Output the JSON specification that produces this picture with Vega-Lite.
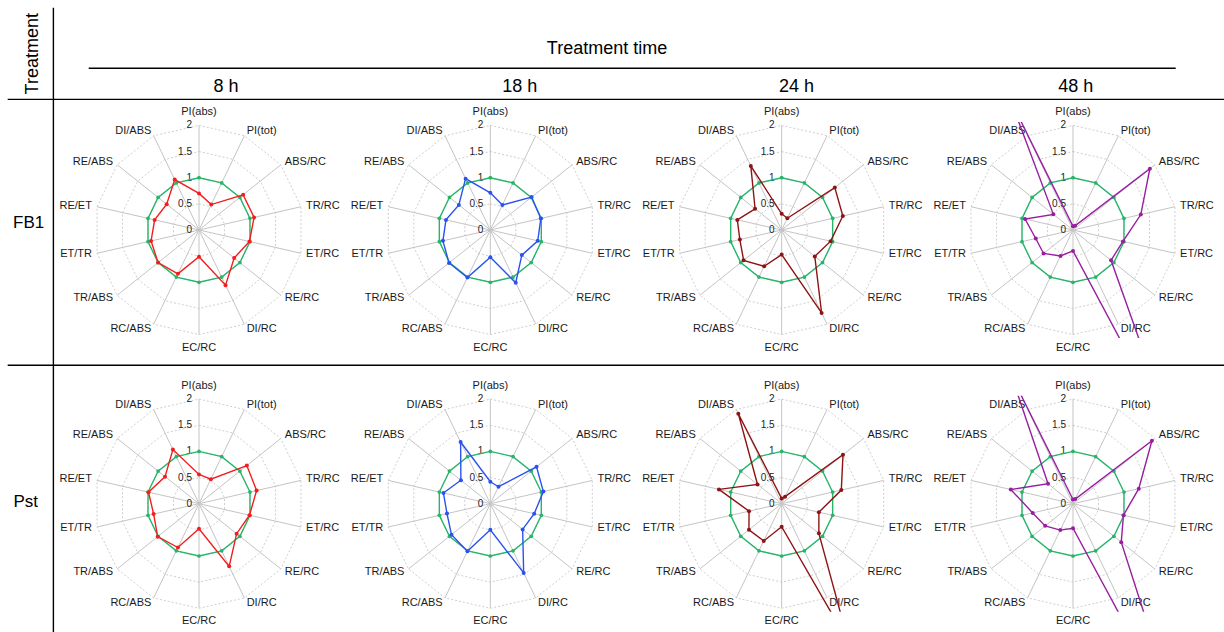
{
  "$schema": "https://vega.github.io/schema/vega-lite/v6.json",
  "padding": 0,
  "background": "white",
  "config": {"view": {"stroke": null}, "font": "Liberation Sans", "text": {"font": "Liberation Sans"}},
  "datasets": {
    "params": [
      {"p": "PI(abs)", "k": 0, "lv": [0, 0.5, 1, 1.5, 2]},
      {"p": "PI(tot)", "k": 1, "lv": [0, 0.5, 1, 1.5, 2]},
      {"p": "ABS/RC", "k": 2, "lv": [0, 0.5, 1, 1.5, 2]},
      {"p": "TR/RC", "k": 3, "lv": [0, 0.5, 1, 1.5, 2]},
      {"p": "ET/RC", "k": 4, "lv": [0, 0.5, 1, 1.5, 2]},
      {"p": "RE/RC", "k": 5, "lv": [0, 0.5, 1, 1.5, 2]},
      {"p": "DI/RC", "k": 6, "lv": [0, 0.5, 1, 1.5, 2]},
      {"p": "EC/RC", "k": 7, "lv": [0, 0.5, 1, 1.5, 2]},
      {"p": "RC/ABS", "k": 8, "lv": [0, 0.5, 1, 1.5, 2]},
      {"p": "TR/ABS", "k": 9, "lv": [0, 0.5, 1, 1.5, 2]},
      {"p": "ET/TR", "k": 10, "lv": [0, 0.5, 1, 1.5, 2]},
      {"p": "RE/ET", "k": 11, "lv": [0, 0.5, 1, 1.5, 2]},
      {"p": "RE/ABS", "k": 12, "lv": [0, 0.5, 1, 1.5, 2]},
      {"p": "DI/ABS", "k": 13, "lv": [0, 0.5, 1, 1.5, 2]}
    ],
    "radar": [
      {"t": "FB1", "h": "8 h", "p": "PI(abs)", "control": 1, "treated": 0.70},
      {"t": "FB1", "h": "8 h", "p": "PI(tot)", "control": 1, "treated": 0.54},
      {"t": "FB1", "h": "8 h", "p": "ABS/RC", "control": 1, "treated": 1.08},
      {"t": "FB1", "h": "8 h", "p": "TR/RC", "control": 1, "treated": 1.08},
      {"t": "FB1", "h": "8 h", "p": "ET/RC", "control": 1, "treated": 0.99},
      {"t": "FB1", "h": "8 h", "p": "RE/RC", "control": 1, "treated": 0.86},
      {"t": "FB1", "h": "8 h", "p": "DI/RC", "control": 1, "treated": 1.17},
      {"t": "FB1", "h": "8 h", "p": "EC/RC", "control": 1, "treated": 0.51},
      {"t": "FB1", "h": "8 h", "p": "RC/ABS", "control": 1, "treated": 0.93},
      {"t": "FB1", "h": "8 h", "p": "TR/ABS", "control": 1, "treated": 1.00},
      {"t": "FB1", "h": "8 h", "p": "ET/TR", "control": 1, "treated": 0.94},
      {"t": "FB1", "h": "8 h", "p": "RE/ET", "control": 1, "treated": 0.87},
      {"t": "FB1", "h": "8 h", "p": "RE/ABS", "control": 1, "treated": 0.79},
      {"t": "FB1", "h": "8 h", "p": "DI/ABS", "control": 1, "treated": 1.07},
      {"t": "FB1", "h": "18 h", "p": "PI(abs)", "control": 1, "treated": 0.71},
      {"t": "FB1", "h": "18 h", "p": "PI(tot)", "control": 1, "treated": 0.53},
      {"t": "FB1", "h": "18 h", "p": "ABS/RC", "control": 1, "treated": 1.01},
      {"t": "FB1", "h": "18 h", "p": "TR/RC", "control": 1, "treated": 0.99},
      {"t": "FB1", "h": "18 h", "p": "ET/RC", "control": 1, "treated": 0.93},
      {"t": "FB1", "h": "18 h", "p": "RE/RC", "control": 1, "treated": 0.77},
      {"t": "FB1", "h": "18 h", "p": "DI/RC", "control": 1, "treated": 1.12},
      {"t": "FB1", "h": "18 h", "p": "EC/RC", "control": 1, "treated": 0.52},
      {"t": "FB1", "h": "18 h", "p": "RC/ABS", "control": 1, "treated": 1.01},
      {"t": "FB1", "h": "18 h", "p": "TR/ABS", "control": 1, "treated": 1.01},
      {"t": "FB1", "h": "18 h", "p": "ET/TR", "control": 1, "treated": 0.93},
      {"t": "FB1", "h": "18 h", "p": "RE/ET", "control": 1, "treated": 0.87},
      {"t": "FB1", "h": "18 h", "p": "RE/ABS", "control": 1, "treated": 0.77},
      {"t": "FB1", "h": "18 h", "p": "DI/ABS", "control": 1, "treated": 1.09},
      {"t": "FB1", "h": "24 h", "p": "PI(abs)", "control": 1, "treated": 0.31},
      {"t": "FB1", "h": "24 h", "p": "PI(tot)", "control": 1, "treated": 0.25},
      {"t": "FB1", "h": "24 h", "p": "ABS/RC", "control": 1, "treated": 1.30},
      {"t": "FB1", "h": "24 h", "p": "TR/RC", "control": 1, "treated": 1.20},
      {"t": "FB1", "h": "24 h", "p": "ET/RC", "control": 1, "treated": 0.96},
      {"t": "FB1", "h": "24 h", "p": "RE/RC", "control": 1, "treated": 0.81},
      {"t": "FB1", "h": "24 h", "p": "DI/RC", "control": 1, "treated": 1.76},
      {"t": "FB1", "h": "24 h", "p": "EC/RC", "control": 1, "treated": 0.47},
      {"t": "FB1", "h": "24 h", "p": "RC/ABS", "control": 1, "treated": 0.77},
      {"t": "FB1", "h": "24 h", "p": "TR/ABS", "control": 1, "treated": 0.93},
      {"t": "FB1", "h": "24 h", "p": "ET/TR", "control": 1, "treated": 0.82},
      {"t": "FB1", "h": "24 h", "p": "RE/ET", "control": 1, "treated": 0.87},
      {"t": "FB1", "h": "24 h", "p": "RE/ABS", "control": 1, "treated": 0.65},
      {"t": "FB1", "h": "24 h", "p": "DI/ABS", "control": 1, "treated": 1.36},
      {"t": "FB1", "h": "48 h", "p": "PI(abs)", "control": 1, "treated": 0.07},
      {"t": "FB1", "h": "48 h", "p": "PI(tot)", "control": 1, "treated": 0.09},
      {"t": "FB1", "h": "48 h", "p": "ABS/RC", "control": 1, "treated": 1.88},
      {"t": "FB1", "h": "48 h", "p": "TR/RC", "control": 1, "treated": 1.33},
      {"t": "FB1", "h": "48 h", "p": "ET/RC", "control": 1, "treated": 0.98},
      {"t": "FB1", "h": "48 h", "p": "RE/RC", "control": 1, "treated": 0.93},
      {"t": "FB1", "h": "48 h", "p": "DI/RC", "control": 1, "treated": 4.60},
      {"t": "FB1", "h": "48 h", "p": "EC/RC", "control": 1, "treated": 0.40},
      {"t": "FB1", "h": "48 h", "p": "RC/ABS", "control": 1, "treated": 0.55},
      {"t": "FB1", "h": "48 h", "p": "TR/ABS", "control": 1, "treated": 0.72},
      {"t": "FB1", "h": "48 h", "p": "ET/TR", "control": 1, "treated": 0.73},
      {"t": "FB1", "h": "48 h", "p": "RE/ET", "control": 1, "treated": 0.94},
      {"t": "FB1", "h": "48 h", "p": "RE/ABS", "control": 1, "treated": 0.48},
      {"t": "FB1", "h": "48 h", "p": "DI/ABS", "control": 1, "treated": 2.74},
      {"t": "Pst", "h": "8 h", "p": "PI(abs)", "control": 1, "treated": 0.56},
      {"t": "Pst", "h": "8 h", "p": "PI(tot)", "control": 1, "treated": 0.52},
      {"t": "Pst", "h": "8 h", "p": "ABS/RC", "control": 1, "treated": 1.17},
      {"t": "Pst", "h": "8 h", "p": "TR/RC", "control": 1, "treated": 1.13},
      {"t": "Pst", "h": "8 h", "p": "ET/RC", "control": 1, "treated": 0.99},
      {"t": "Pst", "h": "8 h", "p": "RE/RC", "control": 1, "treated": 0.92},
      {"t": "Pst", "h": "8 h", "p": "DI/RC", "control": 1, "treated": 1.33},
      {"t": "Pst", "h": "8 h", "p": "EC/RC", "control": 1, "treated": 0.48},
      {"t": "Pst", "h": "8 h", "p": "RC/ABS", "control": 1, "treated": 0.93},
      {"t": "Pst", "h": "8 h", "p": "TR/ABS", "control": 1, "treated": 1.01},
      {"t": "Pst", "h": "8 h", "p": "ET/TR", "control": 1, "treated": 0.89},
      {"t": "Pst", "h": "8 h", "p": "RE/ET", "control": 1, "treated": 0.99},
      {"t": "Pst", "h": "8 h", "p": "RE/ABS", "control": 1, "treated": 0.83},
      {"t": "Pst", "h": "8 h", "p": "DI/ABS", "control": 1, "treated": 1.15},
      {"t": "Pst", "h": "18 h", "p": "PI(abs)", "control": 1, "treated": 0.42},
      {"t": "Pst", "h": "18 h", "p": "PI(tot)", "control": 1, "treated": 0.36},
      {"t": "Pst", "h": "18 h", "p": "ABS/RC", "control": 1, "treated": 1.13},
      {"t": "Pst", "h": "18 h", "p": "TR/RC", "control": 1, "treated": 1.04},
      {"t": "Pst", "h": "18 h", "p": "ET/RC", "control": 1, "treated": 0.86},
      {"t": "Pst", "h": "18 h", "p": "RE/RC", "control": 1, "treated": 0.79},
      {"t": "Pst", "h": "18 h", "p": "DI/RC", "control": 1, "treated": 1.47},
      {"t": "Pst", "h": "18 h", "p": "EC/RC", "control": 1, "treated": 0.50},
      {"t": "Pst", "h": "18 h", "p": "RC/ABS", "control": 1, "treated": 1.01},
      {"t": "Pst", "h": "18 h", "p": "TR/ABS", "control": 1, "treated": 0.95},
      {"t": "Pst", "h": "18 h", "p": "ET/TR", "control": 1, "treated": 0.85},
      {"t": "Pst", "h": "18 h", "p": "RE/ET", "control": 1, "treated": 0.92},
      {"t": "Pst", "h": "18 h", "p": "RE/ABS", "control": 1, "treated": 0.72},
      {"t": "Pst", "h": "18 h", "p": "DI/ABS", "control": 1, "treated": 1.31},
      {"t": "Pst", "h": "24 h", "p": "PI(abs)", "control": 1, "treated": 0.10},
      {"t": "Pst", "h": "24 h", "p": "PI(tot)", "control": 1, "treated": 0.15},
      {"t": "Pst", "h": "24 h", "p": "ABS/RC", "control": 1, "treated": 1.50},
      {"t": "Pst", "h": "24 h", "p": "TR/RC", "control": 1, "treated": 1.17},
      {"t": "Pst", "h": "24 h", "p": "ET/RC", "control": 1, "treated": 0.73},
      {"t": "Pst", "h": "24 h", "p": "RE/RC", "control": 1, "treated": 0.91},
      {"t": "Pst", "h": "24 h", "p": "DI/RC", "control": 1, "treated": 2.95},
      {"t": "Pst", "h": "24 h", "p": "EC/RC", "control": 1, "treated": 0.44},
      {"t": "Pst", "h": "24 h", "p": "RC/ABS", "control": 1, "treated": 0.79},
      {"t": "Pst", "h": "24 h", "p": "TR/ABS", "control": 1, "treated": 0.80},
      {"t": "Pst", "h": "24 h", "p": "ET/TR", "control": 1, "treated": 0.64},
      {"t": "Pst", "h": "24 h", "p": "RE/ET", "control": 1, "treated": 1.23},
      {"t": "Pst", "h": "24 h", "p": "RE/ABS", "control": 1, "treated": 0.59},
      {"t": "Pst", "h": "24 h", "p": "DI/ABS", "control": 1, "treated": 1.91},
      {"t": "Pst", "h": "48 h", "p": "PI(abs)", "control": 1, "treated": 0.08},
      {"t": "Pst", "h": "48 h", "p": "PI(tot)", "control": 1, "treated": 0.10},
      {"t": "Pst", "h": "48 h", "p": "ABS/RC", "control": 1, "treated": 1.93},
      {"t": "Pst", "h": "48 h", "p": "TR/RC", "control": 1, "treated": 1.29},
      {"t": "Pst", "h": "48 h", "p": "ET/RC", "control": 1, "treated": 0.99},
      {"t": "Pst", "h": "48 h", "p": "RE/RC", "control": 1, "treated": 1.18},
      {"t": "Pst", "h": "48 h", "p": "DI/RC", "control": 1, "treated": 4.75},
      {"t": "Pst", "h": "48 h", "p": "EC/RC", "control": 1, "treated": 0.47},
      {"t": "Pst", "h": "48 h", "p": "RC/ABS", "control": 1, "treated": 0.56},
      {"t": "Pst", "h": "48 h", "p": "TR/ABS", "control": 1, "treated": 0.68},
      {"t": "Pst", "h": "48 h", "p": "ET/TR", "control": 1, "treated": 0.79},
      {"t": "Pst", "h": "48 h", "p": "RE/ET", "control": 1, "treated": 1.22},
      {"t": "Pst", "h": "48 h", "p": "RE/ABS", "control": 1, "treated": 0.61},
      {"t": "Pst", "h": "48 h", "p": "DI/ABS", "control": 1, "treated": 2.71}
    ]
  },
  "data": {"name": "radar"},
  "transform": [
    {"lookup": "p", "from": {"data": {"name": "params"}, "key": "p", "fields": ["k", "lv"]}},
    {"fold": ["control", "treated"], "as": ["s", "val"]}
  ],
  "facet": {
    "row": {"field": "t", "type": "nominal", "sort": ["FB1", "Pst"], "header": {"labels": false, "title": null, "labelPadding": 0, "titlePadding": 0}},
    "column": {"field": "h", "type": "nominal", "sort": ["8 h", "18 h", "24 h", "48 h"], "header": {"labels": false, "title": null, "labelPadding": 0, "titlePadding": 0}}
  },
  "spacing": {"row": 57.7, "column": 75.33},
  "bounds": "flush",
  "spec": {
    "width": 216,
    "height": 216,
    "layer": [
      {
        "transform": [
          {"filter": "datum.s == 'control'"},
          {"flatten": ["lv"]},
          {"filter": "datum.lv == 0 || datum.lv == 2"},
          {"calculate": "datum.lv*sin(datum.k*PI/7)", "as": "x"},
          {"calculate": "datum.lv*cos(datum.k*PI/7)", "as": "y"}
        ],
        "mark": {"type": "line", "color": "#c4c4c4", "strokeWidth": 1},
        "encoding": {
          "x": {"field": "x", "type": "quantitative", "scale": {"domain": [-2.065, 2.065], "nice": false, "zero": false}, "axis": null},
          "y": {"field": "y", "type": "quantitative", "scale": {"domain": [-2.065, 2.065], "nice": false, "zero": false}, "axis": null},
          "detail": {"field": "k", "type": "nominal"},
          "order": {"field": "lv", "type": "quantitative"}
        }
      },
      {
        "transform": [
          {"filter": "datum.s == 'control'"},
          {"flatten": ["lv"]},
          {"filter": "datum.lv > 0"},
          {"calculate": "datum.lv*sin(datum.k*PI/7)", "as": "x"},
          {"calculate": "datum.lv*cos(datum.k*PI/7)", "as": "y"}
        ],
        "mark": {"type": "line", "interpolate": "linear-closed", "color": "#c2c2c2", "strokeWidth": 0.8, "strokeDash": [2, 2]},
        "encoding": {
          "x": {"field": "x", "type": "quantitative", "scale": {"domain": [-2.065, 2.065], "nice": false, "zero": false}, "axis": null},
          "y": {"field": "y", "type": "quantitative", "scale": {"domain": [-2.065, 2.065], "nice": false, "zero": false}, "axis": null},
          "detail": {"field": "lv", "type": "nominal"},
          "order": {"field": "k", "type": "quantitative"}
        }
      },
      {
        "transform": [
          {"filter": "datum.s == 'control' && datum.k == 0"},
          {"flatten": ["lv"]},
          {"calculate": "0", "as": "x"}
        ],
        "mark": {"type": "text", "align": "right", "baseline": "middle", "dx": -7, "fontSize": 10, "color": "#222222"},
        "encoding": {
          "x": {"field": "x", "type": "quantitative", "scale": {"domain": [-2.065, 2.065], "nice": false, "zero": false}, "axis": null},
          "y": {"field": "lv", "type": "quantitative", "scale": {"domain": [-2.065, 2.065], "nice": false, "zero": false}, "axis": null},
          "text": {"field": "lv", "type": "nominal"}
        }
      },
      {
        "transform": [
          {"filter": "datum.s == 'control' && datum.k >= 1 && datum.k <= 6"},
          {"calculate": "2.1*sin(datum.k*PI/7)", "as": "x"},
          {"calculate": "2.1*cos(datum.k*PI/7)", "as": "y"}
        ],
        "mark": {"type": "text", "align": "left", "baseline": "middle", "fontSize": 11, "color": "#1a1a1a"},
        "encoding": {
          "x": {"field": "x", "type": "quantitative", "scale": {"domain": [-2.065, 2.065], "nice": false, "zero": false}, "axis": null},
          "y": {"field": "y", "type": "quantitative", "scale": {"domain": [-2.065, 2.065], "nice": false, "zero": false}, "axis": null},
          "text": {"field": "p", "type": "nominal"}
        }
      },
      {
        "transform": [
          {"filter": "datum.s == 'control' && datum.k >= 8"},
          {"calculate": "2.1*sin(datum.k*PI/7)", "as": "x"},
          {"calculate": "2.1*cos(datum.k*PI/7)", "as": "y"}
        ],
        "mark": {"type": "text", "align": "right", "baseline": "middle", "fontSize": 11, "color": "#1a1a1a"},
        "encoding": {
          "x": {"field": "x", "type": "quantitative", "scale": {"domain": [-2.065, 2.065], "nice": false, "zero": false}, "axis": null},
          "y": {"field": "y", "type": "quantitative", "scale": {"domain": [-2.065, 2.065], "nice": false, "zero": false}, "axis": null},
          "text": {"field": "p", "type": "nominal"}
        }
      },
      {
        "transform": [
          {"filter": "datum.s == 'control' && (datum.k == 0 || datum.k == 7)"},
          {"calculate": "2.25*sin(datum.k*PI/7)", "as": "x"},
          {"calculate": "2.25*cos(datum.k*PI/7)", "as": "y"}
        ],
        "mark": {"type": "text", "align": "center", "baseline": "middle", "fontSize": 11, "color": "#1a1a1a"},
        "encoding": {
          "x": {"field": "x", "type": "quantitative", "scale": {"domain": [-2.065, 2.065], "nice": false, "zero": false}, "axis": null},
          "y": {"field": "y", "type": "quantitative", "scale": {"domain": [-2.065, 2.065], "nice": false, "zero": false}, "axis": null},
          "text": {"field": "p", "type": "nominal"}
        }
      },
      {
        "transform": [
          {"filter": "datum.s == 'control'"},
          {"calculate": "datum.val*sin(datum.k*PI/7)", "as": "x"},
          {"calculate": "datum.val*cos(datum.k*PI/7)", "as": "y"}
        ],
        "mark": {"type": "line", "interpolate": "linear-closed", "color": "#27b56a", "strokeWidth": 1.4, "clip": true},
        "encoding": {
          "x": {"field": "x", "type": "quantitative", "scale": {"domain": [-2.065, 2.065], "nice": false, "zero": false}, "axis": null},
          "y": {"field": "y", "type": "quantitative", "scale": {"domain": [-2.065, 2.065], "nice": false, "zero": false}, "axis": null},
          "order": {"field": "k", "type": "quantitative"}
        }
      },
      {
        "transform": [
          {"filter": "datum.s == 'control'"},
          {"calculate": "datum.val*sin(datum.k*PI/7)", "as": "x"},
          {"calculate": "datum.val*cos(datum.k*PI/7)", "as": "y"}
        ],
        "mark": {"type": "point", "filled": true, "size": 14, "opacity": 1, "color": "#27b56a", "clip": true},
        "encoding": {
          "x": {"field": "x", "type": "quantitative", "scale": {"domain": [-2.065, 2.065], "nice": false, "zero": false}, "axis": null},
          "y": {"field": "y", "type": "quantitative", "scale": {"domain": [-2.065, 2.065], "nice": false, "zero": false}, "axis": null}
        }
      },
      {
        "transform": [
          {"filter": "datum.s == 'treated'"},
          {"calculate": "datum.val*sin(datum.k*PI/7)", "as": "x"},
          {"calculate": "datum.val*cos(datum.k*PI/7)", "as": "y"}
        ],
        "mark": {"type": "line", "interpolate": "linear-closed", "strokeWidth": 1.4, "clip": true},
        "encoding": {
          "x": {"field": "x", "type": "quantitative", "scale": {"domain": [-2.065, 2.065], "nice": false, "zero": false}, "axis": null},
          "y": {"field": "y", "type": "quantitative", "scale": {"domain": [-2.065, 2.065], "nice": false, "zero": false}, "axis": null},
          "order": {"field": "k", "type": "quantitative"},
          "color": {"field": "h", "type": "nominal", "legend": null, "scale": {"domain": ["8 h", "18 h", "24 h", "48 h"], "range": ["#f41d1d", "#2a52f0", "#8e1414", "#971f9f"]}}
        }
      },
      {
        "transform": [
          {"filter": "datum.s == 'treated'"},
          {"calculate": "datum.val*sin(datum.k*PI/7)", "as": "x"},
          {"calculate": "datum.val*cos(datum.k*PI/7)", "as": "y"}
        ],
        "mark": {"type": "point", "filled": true, "size": 16, "opacity": 1, "clip": true},
        "encoding": {
          "x": {"field": "x", "type": "quantitative", "scale": {"domain": [-2.065, 2.065], "nice": false, "zero": false}, "axis": null},
          "y": {"field": "y", "type": "quantitative", "scale": {"domain": [-2.065, 2.065], "nice": false, "zero": false}, "axis": null},
          "color": {"field": "h", "type": "nominal", "legend": null, "scale": {"domain": ["8 h", "18 h", "24 h", "48 h"], "range": ["#f41d1d", "#2a52f0", "#8e1414", "#971f9f"]}}
        }
      },
      {
        "transform": [{"filter": "datum.t == 'FB1' && datum.h == '8 h' && datum.s == 'control' && datum.k == 0"}],
        "mark": {"type": "rule", "color": "white", "strokeWidth": 1},
        "encoding": {
          "x": {"datum": -3.778, "type": "quantitative", "scale": {"domain": [-2.065, 2.065], "nice": false, "zero": false}, "axis": null},
          "y": {"datum": 4.371, "type": "quantitative", "scale": {"domain": [-2.065, 2.065], "nice": false, "zero": false}, "axis": null},
          "y2": {"datum": 4.3}
        }
      },
      {
        "transform": [{"filter": "datum.t == 'FB1' && datum.h == '8 h' && datum.s == 'control' && datum.k == 0"}],
        "mark": {"type": "rule", "color": "black", "strokeWidth": 1.4},
        "encoding": {
          "x": {"datum": -2.784, "type": "quantitative", "scale": {"domain": [-2.065, 2.065], "nice": false, "zero": false}, "axis": null},
          "y": {"datum": 4.25, "type": "quantitative", "scale": {"domain": [-2.065, 2.065], "nice": false, "zero": false}, "axis": null},
          "y2": {"datum": -7.7}
        }
      },
      {
        "transform": [{"filter": "datum.t == 'FB1' && datum.h == '8 h' && datum.s == 'control' && datum.k == 0"}],
        "mark": {"type": "rule", "color": "black", "strokeWidth": 1.4},
        "encoding": {
          "x": {"datum": -3.658, "type": "quantitative", "scale": {"domain": [-2.065, 2.065], "nice": false, "zero": false}, "axis": null},
          "x2": {"datum": 19.7},
          "y": {"datum": 2.497, "type": "quantitative", "scale": {"domain": [-2.065, 2.065], "nice": false, "zero": false}, "axis": null}
        }
      },
      {
        "transform": [{"filter": "datum.t == 'FB1' && datum.h == '8 h' && datum.s == 'control' && datum.k == 0"}],
        "mark": {"type": "rule", "color": "black", "strokeWidth": 1.4},
        "encoding": {
          "x": {"datum": -3.658, "type": "quantitative", "scale": {"domain": [-2.065, 2.065], "nice": false, "zero": false}, "axis": null},
          "x2": {"datum": 19.7},
          "y": {"datum": -2.585, "type": "quantitative", "scale": {"domain": [-2.065, 2.065], "nice": false, "zero": false}, "axis": null}
        }
      },
      {
        "transform": [{"filter": "datum.t == 'FB1' && datum.h == '8 h' && datum.s == 'control' && datum.k == 0"}],
        "mark": {"type": "rule", "color": "black", "strokeWidth": 1.4},
        "encoding": {
          "x": {"datum": -2.109, "type": "quantitative", "scale": {"domain": [-2.065, 2.065], "nice": false, "zero": false}, "axis": null},
          "x2": {"datum": 18.675},
          "y": {"datum": 3.094, "type": "quantitative", "scale": {"domain": [-2.065, 2.065], "nice": false, "zero": false}, "axis": null}
        }
      },
      {
        "transform": [{"filter": "datum.t == 'FB1' && datum.h == '8 h' && datum.s == 'control' && datum.k == 0"}],
        "mark": {"type": "text", "fontSize": 18, "align": "center", "baseline": "middle", "color": "black", "text": "Treatment time"},
        "encoding": {
          "x": {"datum": 7.801, "type": "quantitative", "scale": {"domain": [-2.065, 2.065], "nice": false, "zero": false}, "axis": null},
          "y": {"datum": 3.461, "type": "quantitative", "scale": {"domain": [-2.065, 2.065], "nice": false, "zero": false}, "axis": null}
        }
      },
      {
        "transform": [{"filter": "datum.t == 'FB1' && datum.h == '8 h' && datum.s == 'control' && datum.k == 0"}],
        "mark": {"type": "text", "fontSize": 18, "align": "center", "baseline": "middle", "color": "black", "text": "8 h"},
        "encoding": {
          "x": {"datum": 0.516, "type": "quantitative", "scale": {"domain": [-2.065, 2.065], "nice": false, "zero": false}, "axis": null},
          "y": {"datum": 2.74, "type": "quantitative", "scale": {"domain": [-2.065, 2.065], "nice": false, "zero": false}, "axis": null}
        }
      },
      {
        "transform": [{"filter": "datum.t == 'FB1' && datum.h == '8 h' && datum.s == 'control' && datum.k == 0"}],
        "mark": {"type": "text", "fontSize": 18, "align": "center", "baseline": "middle", "color": "black", "text": "18 h"},
        "encoding": {
          "x": {"datum": 6.132, "type": "quantitative", "scale": {"domain": [-2.065, 2.065], "nice": false, "zero": false}, "axis": null},
          "y": {"datum": 2.74, "type": "quantitative", "scale": {"domain": [-2.065, 2.065], "nice": false, "zero": false}, "axis": null}
        }
      },
      {
        "transform": [{"filter": "datum.t == 'FB1' && datum.h == '8 h' && datum.s == 'control' && datum.k == 0"}],
        "mark": {"type": "text", "fontSize": 18, "align": "center", "baseline": "middle", "color": "black", "text": "24 h"},
        "encoding": {
          "x": {"datum": 11.424, "type": "quantitative", "scale": {"domain": [-2.065, 2.065], "nice": false, "zero": false}, "axis": null},
          "y": {"datum": 2.74, "type": "quantitative", "scale": {"domain": [-2.065, 2.065], "nice": false, "zero": false}, "axis": null}
        }
      },
      {
        "transform": [{"filter": "datum.t == 'FB1' && datum.h == '8 h' && datum.s == 'control' && datum.k == 0"}],
        "mark": {"type": "text", "fontSize": 18, "align": "center", "baseline": "middle", "color": "black", "text": "48 h"},
        "encoding": {
          "x": {"datum": 16.763, "type": "quantitative", "scale": {"domain": [-2.065, 2.065], "nice": false, "zero": false}, "axis": null},
          "y": {"datum": 2.74, "type": "quantitative", "scale": {"domain": [-2.065, 2.065], "nice": false, "zero": false}, "axis": null}
        }
      },
      {
        "transform": [{"filter": "datum.t == 'FB1' && datum.h == '8 h' && datum.s == 'control' && datum.k == 0"}],
        "mark": {"type": "text", "fontSize": 18, "align": "center", "baseline": "middle", "angle": 270, "color": "black", "text": "Treatment"},
        "encoding": {
          "x": {"datum": -3.18, "type": "quantitative", "scale": {"domain": [-2.065, 2.065], "nice": false, "zero": false}, "axis": null},
          "y": {"datum": 3.371, "type": "quantitative", "scale": {"domain": [-2.065, 2.065], "nice": false, "zero": false}, "axis": null}
        }
      },
      {
        "transform": [{"filter": "datum.t == 'FB1' && datum.h == '8 h' && datum.s == 'control' && datum.k == 0"}],
        "mark": {"type": "text", "fontSize": 17, "align": "center", "baseline": "middle", "color": "black", "text": "FB1"},
        "encoding": {
          "x": {"datum": -3.256, "type": "quantitative", "scale": {"domain": [-2.065, 2.065], "nice": false, "zero": false}, "axis": null},
          "y": {"datum": 0.126, "type": "quantitative", "scale": {"domain": [-2.065, 2.065], "nice": false, "zero": false}, "axis": null}
        }
      },
      {
        "transform": [{"filter": "datum.t == 'FB1' && datum.h == '8 h' && datum.s == 'control' && datum.k == 0"}],
        "mark": {"type": "text", "fontSize": 17, "align": "center", "baseline": "middle", "color": "black", "text": "Pst"},
        "encoding": {
          "x": {"datum": -3.314, "type": "quantitative", "scale": {"domain": [-2.065, 2.065], "nice": false, "zero": false}, "axis": null},
          "y": {"datum": -5.208, "type": "quantitative", "scale": {"domain": [-2.065, 2.065], "nice": false, "zero": false}, "axis": null}
        }
      }
    ]
  }
}
